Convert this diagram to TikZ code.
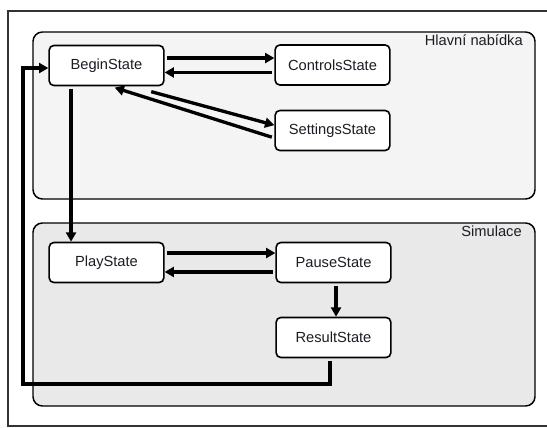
\documentclass[tikz,border=0pt]{standalone}
\usepackage{fontspec}
\setmainfont{Liberation Sans}
\usetikzlibrary{arrows.meta}
\definecolor{menufill}{HTML}{F4F4F4}
\definecolor{simfill}{HTML}{E9E9E9}
\definecolor{txt}{HTML}{1C1C24}
\tikzset{
  statebox/.style={draw=black, line width=1.2pt, fill=white, rounded corners=3.5pt,
    minimum width=86pt, minimum height=30pt, inner sep=0pt,
    font=\fontsize{11}{13}\selectfont, text=txt},
  groupbox/.style={draw=black, line width=1.1pt, rounded corners=7pt},
  grouplabel/.style={inner sep=0pt, anchor=base east, font=\fontsize{11}{13}\selectfont, text=txt},
  arr/.style={line width=2.5pt, -{Triangle[length=7pt,width=7.5pt]}, shorten <=2pt},
}
\begin{document}
\begin{tikzpicture}[x=0.75pt, y=-0.75pt]
  \useasboundingbox (0,0) rectangle (547,428);
  \fill[white] (0,0) rectangle (547,428);

  % outer frame, open on the right
  \draw[line width=0.8pt, black!80] (547,11) -- (8,11) -- (8,426) -- (547,426);

  % the two groups of states
  \draw[groupbox, fill=menufill] (33,32) rectangle (535,199);
  \draw[groupbox, fill=simfill] (33,223) rectangle (535,406);
  \node[grouplabel] (lblmenu) at (523,46) {Hlavní nabídka};
  \node[grouplabel] (lblsim) at (522,236) {Simulace};

  % states
  \node[statebox] (begin) at (106.5,65.5) {BeginState};
  \node[statebox] (controls) at (332.5,65) {ControlsState};
  \node[statebox] (settings) at (332.5,130.5) {SettingsState};
  \node[statebox] (play) at (106.5,262.5) {PlayState};
  \node[statebox] (pause) at (333.5,262.5) {PauseState};
  \node[statebox] (result) at (333.5,337.5) {ResultState};

  % transitions in the main menu
  \draw[arr] ([yshift=5.6pt]begin.east) -- ([yshift=5.6pt]begin.east -| controls.west);
  \draw[arr] ([yshift=-5.6pt]controls.west) -- ([yshift=-5.6pt]controls.west -| begin.east);
  \draw[arr] ([xshift=-12pt,yshift=-3.5pt]begin.south east) -- ([yshift=4pt]settings.west);
  \draw[arr] ([yshift=-5.6pt]settings.west) -- ([xshift=-37.5pt,yshift=-1pt]begin.south east);

  % into the simulation
  \draw[arr] ([xshift=-26.6pt]begin.south) -- ([xshift=-26.6pt]play.north);

  % transitions in the simulation
  \draw[arr] ([yshift=7.1pt]play.east) -- ([yshift=7.1pt]play.east -| pause.west);
  \draw[arr] ([yshift=-7.1pt]pause.west) -- ([yshift=-7.1pt]pause.west -| play.east);
  \draw[arr] ([xshift=1.9pt]pause.south) -- ([xshift=1.9pt]result.north);

  % back to the main menu
  \coordinate (loopcorner) at (23,384);
  \draw[arr] ([xshift=-2.6pt]result.south) |- (loopcorner) |- ([yshift=-1.9pt]begin.west);
\end{tikzpicture}
\end{document}
